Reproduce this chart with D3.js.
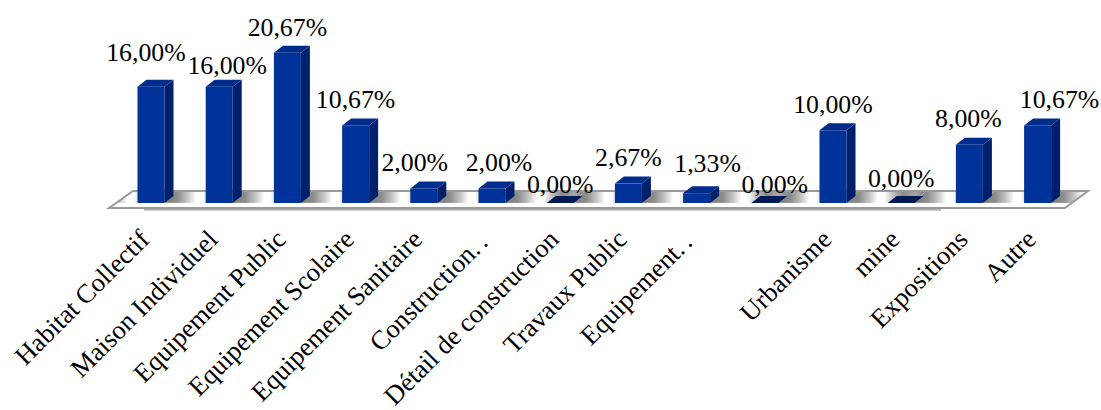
<!DOCTYPE html>
<html lang="fr"><head><meta charset="utf-8">
<script src="https://cdn.jsdelivr.net/npm/d3@7"></script>
<style>html,body{margin:0;background:#fff;overflow:hidden}svg{display:block}text{font-family:"Liberation Serif","Times New Roman",serif;fill:#000}</style>
</head><body><svg id="c" width="1101" height="410"></svg>
<script>
const categories = ["Habitat Collectif","Maison Individuel","Equipement Public","Equipement Scolaire","Equipement Sanitaire","Construction..","Détail de construction","Travaux Public","Equipement..","","Urbanisme","mine","Expositions","Autre"];
const values = [16,16,20.67,10.67,2,2,0,2.67,1.33,0,10,0,8,10.67];
const labelDx = [-5,8,0,0,-9,7,0,0,11,10,0,0,-1,22];
const labelDy = [-26,-13,-17,-17,-17.5,-17.5,-10,-17.6,-21,-10,-17,-16,-18,-17];

const svg = d3.select("#c");
const slots = d3.range(values.length);
const x = d3.scaleBand().domain(slots).range([137.5,1051.1]).paddingInner(.604).paddingOuter(0);
const y = d3.scaleLinear().domain([0,20.67]).range([203,52.7]);
const dX = 9, dY = 7, w = x.bandwidth();
const fr = d3.formatLocale({decimal:",",thousands:" ",grouping:[3],currency:["","%"]}).format(".2f");
const defs = svg.append("defs");

const floor = [[109,208],[133,191],[1088,191],[1065,208]];
const line = d3.line();
defs.append("clipPath").attr("id","fc").append("path").attr("d",line(floor)+"Z");
const g = defs.append("linearGradient").attr("id","band");
[[0,"#808080"],[.16,"#8c8c8c"],[.3,"#c8c8c8"],[.4,"#fff"],[.48,"#fff"],[.62,"#b4b4b4"],[.72,"#8c8c8c"],[.88,"#a8a8a8"],[1,"#808080"]]
  .forEach(s=>g.append("stop").attr("offset",s[0]).attr("stop-color",s[1]));
const fade = defs.append("linearGradient").attr("id","fade").attr("x1",0).attr("x2",0).attr("y1",0).attr("y2",1);
[[0,"#fff",0],[.66,"#fff",0],[.8,"#fff",.85],[1,"#fff",1]].forEach(s=>fade.append("stop").attr("offset",s[0]).attr("stop-color",s[1]).attr("stop-opacity",s[2]));

svg.append("path").attr("d",line(floor)+"Z").attr("fill","#fff");
const fg = svg.append("g").attr("clip-path","url(#fc)");
fg.selectAll("path.b").data([-1,...slots]).join("path").attr("class","b")
  .attr("fill","url(#band)")
  .attr("d",i=>{const l=(i<0?x(0)-x.step():x(i))+w, r=l+x.step();
    return line([[l,203],[l+10,192],[r+10,192],[r,203]])+"Z";});
fg.append("rect").attr("x",100).attr("y",191).attr("width",1000).attr("height",17).attr("fill","url(#fade)");
svg.append("path").attr("d",line(floor)+"Z").attr("fill","none").attr("stroke","#999").attr("stroke-width",2);
svg.append("line").attr("x1",144).attr("x2",941).attr("y1",209.8).attr("y2",209.8).attr("stroke","#aaa").attr("stroke-width",1.5);

const bars = svg.append("g").selectAll("g").data(values).join("g");
bars.append("path").attr("fill",d=>d>0?"#00206b":"none")
  .attr("d",(d,i)=>{const l=x(i)+w,t=y(d),b=y(0);return line([[l,t],[l+dX,t-dY],[l+dX,b-dY],[l,b]])+"Z";});
bars.append("path").attr("fill",d=>d>0?"#002d8c":"#001a55")
  .attr("d",(d,i)=>{const l=x(i),t=y(d);return line([[l,t],[l+w,t],[l+w+dX,t-dY],[l+dX,t-dY]])+"Z";});
bars.append("rect").attr("fill","#003399").attr("x",(d,i)=>x(i)).attr("y",d=>y(d)).attr("width",w).attr("height",d=>y(0)-y(d));

svg.append("g").selectAll("text").data(values).join("text")
  .attr("text-anchor","middle").attr("font-size",25.8)
  .attr("x",(d,i)=>x(i)+w/2+labelDx[i]).attr("y",(d,i)=>y(d)+labelDy[i])
  .text(d=>fr(d)+"%");

const axis = d3.axisBottom(x).tickSize(0).tickFormat(i=>categories[i]);
const ax = svg.append("g").attr("transform","translate(0,241)").call(axis);
ax.select(".domain").remove();
ax.selectAll("text").attr("font-size",26.5).attr("fill","#000").attr("font-family",'"Liberation Serif"')
  .attr("text-anchor","end").attr("dy",0).attr("y",0).attr("transform","rotate(-45)")
  .each(function(){
    const t=d3.select(this), s=t.text();
    if(s.endsWith("..")){
      t.text(s.slice(0,-2));
      t.append("tspan").attr("letter-spacing",4).text("..");
    }
  });
</script></body></html>
